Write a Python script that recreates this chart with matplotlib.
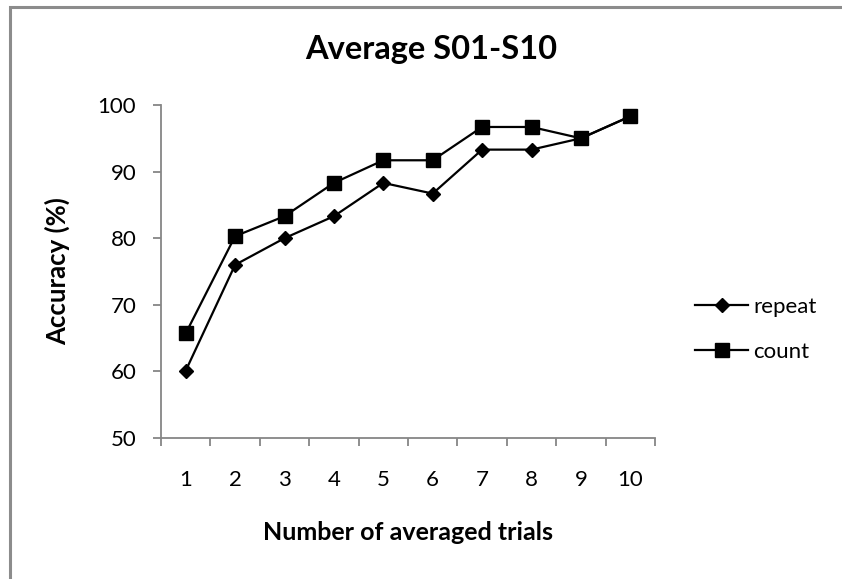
import matplotlib
matplotlib.use("Agg")
import matplotlib.pyplot as plt
from matplotlib.patches import Rectangle

plt.rcParams['font.family'] = ['Lato', 'DejaVu Sans']

# data
trials = [1, 2, 3, 4, 5, 6, 7, 8, 9, 10]
repeat = [60.1, 76.0, 80.0, 83.3, 88.3, 86.7, 93.3, 93.3, 95.0, 98.3]
count = [65.7, 80.3, 83.3, 88.3, 91.7, 91.7, 96.7, 96.7, 95.0, 98.3]

W, H = 842, 579
fig = plt.figure(figsize=(W / 100, H / 100), dpi=100)
ax = fig.add_axes([161 / W, 1 - 438 / H, (655 - 161) / W, (438 - 105) / H])

axis_grey = '#868686'

ax.plot(trials, repeat, color='black', lw=1.6, marker='D', markersize=7.5,
        label='repeat')
ax.plot(trials, count, color='black', lw=1.6, marker='s', markersize=10.5,
        label='count')

ax.set_xlim(0.5, 10.5)
ax.set_ylim(50, 100)
ax.set_yticks([50, 60, 70, 80, 90, 100])
ax.set_xticks(trials)
ax.set_xticks([x + 0.5 for x in range(0, 11)], minor=True)

for side in ['top', 'right']:
    ax.spines[side].set_visible(False)
for side in ['left', 'bottom']:
    ax.spines[side].set_color(axis_grey)
    ax.spines[side].set_linewidth(1.3)

ax.tick_params(axis='y', direction='out', length=5.8, width=1.3, color=axis_grey,
               labelsize=16, pad=12)
ax.tick_params(axis='x', which='major', length=0, labelsize=16, pad=23)
ax.tick_params(axis='x', which='minor', direction='out', length=5.8, width=1.3,
               color=axis_grey)

fig.text(431 / W, 1 - 50 / H, 'Average S01-S10', fontsize=23.5,
         fontweight='bold', ha='center', va='center')

ax.set_xlabel('Number of averaged trials', fontsize=18, fontweight='bold')
ax.xaxis.set_label_coords(0.5, (438 - 533) / 333)
ax.xaxis.label.set_va('center')
ax.set_ylabel('Accuracy (%)', fontsize=18.5, fontweight='bold')
ax.yaxis.set_label_coords((57 - 161) / 494, 0.5)
ax.yaxis.label.set_va('center')

ax.legend(loc='center left', bbox_to_anchor=((695 - 161) / 494, 0.326),
          frameon=False, borderpad=0, borderaxespad=0, fontsize=16,
          handlelength=2.4, handletextpad=0.22, labelspacing=1.1)

# chart-area frame (only top and left edges visible in the crop)
fig.patches.append(Rectangle((10 / W, -0.1), 1.2, 1 - 7 / H + 0.1,
                             transform=fig.transFigure, fill=False,
                             edgecolor='#8c8c8c', lw=2.2))

fig.savefig('out.png', dpi=100)
